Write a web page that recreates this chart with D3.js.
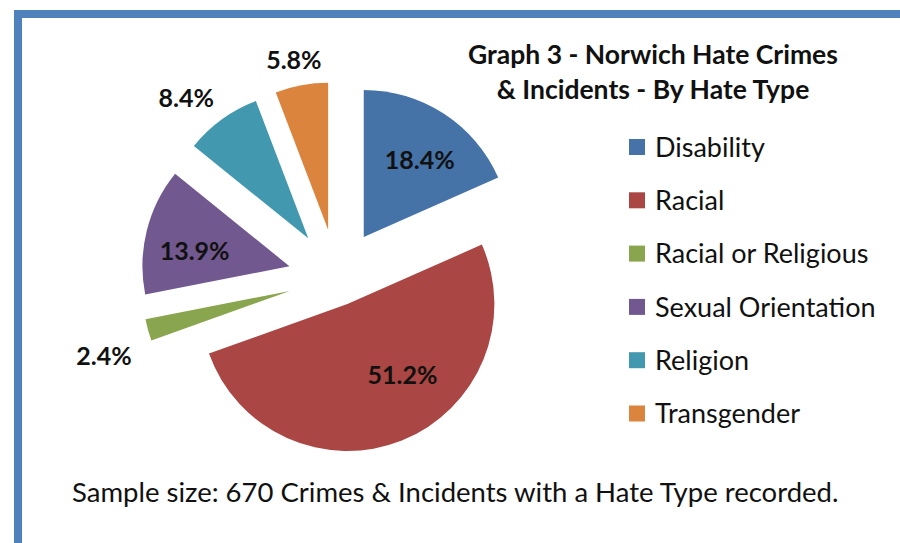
<!DOCTYPE html>
<html>
<head>
<meta charset="utf-8">
<script src="https://cdn.jsdelivr.net/npm/d3@7"></script>
<style>
  html, body { margin: 0; padding: 0; background: #fff; }
  svg { display: block; }
  text { font-family: Lato, "Open Sans", sans-serif; fill: #111; }
</style>
</head>
<body>
<div id="chart"></div>
<script>
// data
const categories = ['Disability', 'Racial', 'Racial or Religious', 'Sexual Orientation', 'Religion', 'Transgender']
const percents = [18.4, 51.2, 2.4, 13.9, 8.4, 5.8]
const colors = ['#4572a7', '#aa4643', '#89a54e', '#71588f', '#4198af', '#db843d']
const titleLines = ['Graph 3 - Norwich Hate Crimes', '& Incidents - By Hate Type']
const footnote = 'Sample size: 670 Crimes & Incidents with a Hate Type recorded.'

// layout
const width = 900
const height = 543
const radius = 147
const center = [337, 278]
const explode = [49, 28, 49, 49, 49, 49]
// label distance from slice apex, plus small angular nudges (degrees)
const labelDist = [95, 90, 197, 96, 186, 173]
const labelTurn = [3, -16, -4, -5, -5, -1]

const svg = d3.select('#chart')
  .append('svg')
  .attr('width', width)
  .attr('height', height)

// frame
svg.append('rect')
  .attr('x', 18)
  .attr('y', 14)
  .attr('width', 1000)
  .attr('height', 1000)
  .attr('fill', 'none')
  .attr('stroke', '#4f81bd')
  .attr('stroke-width', 8)

const pie = d3.pie().sort(null).value((d) => d)
const arcs = pie(percents)
const arc = d3.arc().innerRadius(0).outerRadius(radius)

const dir = (a) => [Math.sin(a), -Math.cos(a)]

const g = svg.append('g')
  .attr('transform', `translate(${center[0]},${center[1]})`)

const slices = g.selectAll('g.slice')
  .data(arcs)
  .enter()
  .append('g')
  .attr('class', 'slice')
  .attr('transform', (d, i) => {
    let m = dir((d.startAngle + d.endAngle) / 2)
    return `translate(${m[0] * explode[i]},${m[1] * explode[i]})`
  })

slices.append('path')
  .attr('d', arc)
  .attr('fill', (d, i) => colors[i])

slices.append('text')
  .attr('x', (d, i) => dir((d.startAngle + d.endAngle) / 2 + labelTurn[i] * Math.PI / 180)[0] * labelDist[i])
  .attr('y', (d, i) => dir((d.startAngle + d.endAngle) / 2 + labelTurn[i] * Math.PI / 180)[1] * labelDist[i])
  .attr('dy', '0.36em')
  .attr('text-anchor', 'middle')
  .style('font-size', '25px')
  .style('font-weight', '700')
  .text((d, i) => percents[i].toFixed(1) + '%')

// title
svg.append('text')
  .attr('x', 653)
  .attr('text-anchor', 'middle')
  .style('font-size', '26.5px')
  .style('font-weight', '700')
  .selectAll('tspan')
  .data(titleLines)
  .enter()
  .append('tspan')
  .attr('x', 653)
  .attr('y', (d, i) => 64 + i * 35)
  .text((d) => d)

// legend
const legend = svg.append('g')
  .attr('transform', 'translate(629,147)')

const rows = legend.selectAll('g.row')
  .data(categories)
  .enter()
  .append('g')
  .attr('class', 'row')
  .attr('transform', (d, i) => `translate(0,${i * 53.3})`)

rows.append('rect')
  .attr('x', 0)
  .attr('y', -8)
  .attr('width', 16)
  .attr('height', 16)
  .attr('fill', (d, i) => colors[i])

rows.append('text')
  .attr('x', 26)
  .attr('dy', '0.36em')
  .style('font-size', '27px')
  .text((d) => d)

// footnote
svg.append('text')
  .attr('x', 72)
  .attr('y', 502)
  .style('font-size', '27.5px')
  .text(footnote)
</script>
</body>
</html>
